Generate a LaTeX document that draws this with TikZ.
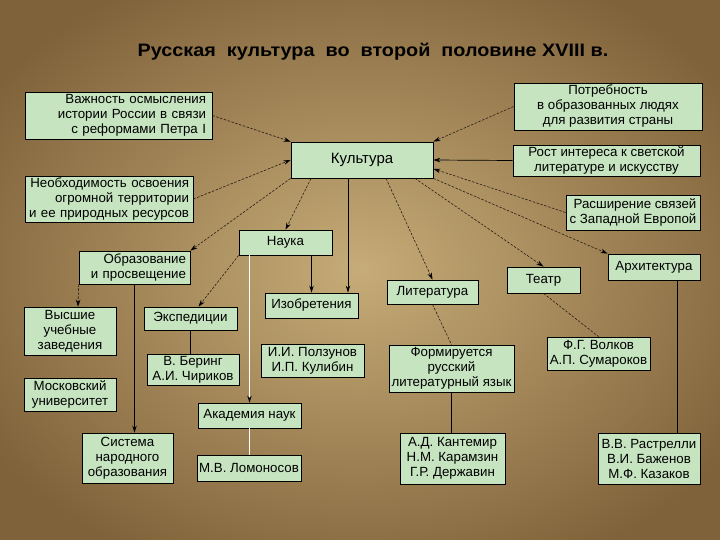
\documentclass[tikz,border=0pt]{standalone}
\usepackage{fontspec}
\setmainfont{Liberation Sans}
\newfontfamily\titlefont{Liberation Sans}[FakeStretch=1.1]
\usepackage{tikz}
\usetikzlibrary{arrows.meta}
\definecolor{parchmid}{RGB}{198,172,120}
\definecolor{parchedge}{RGB}{128,98,58}
\definecolor{boxgreen}{RGB}{198,228,192}
\definecolor{linkcol}{RGB}{40,30,20}
\tikzstyle{box}=[draw=black, line width=0.8pt, fill=boxgreen, inner sep=1pt,
                 font=\fontsize{13.3}{15}\selectfont]
\tikzstyle{link}=[draw=linkcol, line width=0.6pt, dash pattern=on 2.5pt off 1.5pt]
\tikzstyle{solid link}=[draw=black, line width=0.7pt]
\tikzstyle{pale link}=[draw=white, line width=0.8pt]
\tikzstyle{tip}=[-{Stealth[length=7pt, width=4.5pt, black]}]

\begin{document}
\begin{tikzpicture}[x=1pt, y=-1pt]
    % background
    \useasboundingbox (0,0) rectangle (720,540);
    \shade[inner color=parchmid, outer color=parchedge] (-80,-60) rectangle (800,600);
    \node[font=\titlefont\fontsize{18}{20}\selectfont\bfseries] (title) at (373,52) {Русская\ \ культура\ \ во\ \ второй\ \ половине XVIII в.};

    % top row
    \node[box, align=right, text width=175pt, minimum width=187pt, minimum height=47pt] (vazh) at (118.5,115.5)
        {Важность осмысления\\истории России в связи\\с реформами Петра I};
    \node[box, align=center, minimum width=188pt, minimum height=47pt] (potr) at (608,106.5)
        {Потребность\\в образованных людях\\для развития страны};
    \node[box, minimum width=142pt, minimum height=36pt, font=\fontsize{15}{17}\selectfont] (kult) at (362,160) {Культура};
    \node[box, align=center, minimum width=187pt, minimum height=31pt] (rost) at (606.5,160.5)
        {Рост интереса к светской\\литературе и искусству};
    \node[box, align=right, text width=160pt, minimum width=168pt, minimum height=46pt] (neobh) at (109,199)
        {Необходимость освоения\\огромной территории\\и ее природных ресурсов};
    \node[box, align=right, minimum width=134pt, minimum height=35pt] (rassh) at (633,212.5)
        {Расширение связей\\с Западной Европой};

    % branches
    \node[box, minimum width=93pt, minimum height=25pt] (nauka) at (285.5,242.5) {Наука};
    \node[box, align=right, text width=103pt, minimum width=111pt, minimum height=33pt] (obraz) at (134.5,267.5)
        {Образование\\и просвещение};
    \node[box, minimum width=92pt, minimum height=26pt] (arkh) at (654,267) {Архитектура};
    \node[box, minimum width=73pt, minimum height=26pt] (teatr) at (543.5,280) {Театр};
    \node[box, minimum width=91pt, minimum height=24pt] (lit) at (432.5,292) {Литература};

    % lower rows
    \node[box, align=center, minimum width=92pt, minimum height=48pt] (vyssh) at (70,331)
        {Высшие\\учебные\\заведения};
    \node[box, minimum width=93pt, minimum height=23pt] (exped) at (190.5,318.5) {Экспедиции};
    \node[box, minimum width=93pt, minimum height=25pt] (izobr) at (311.5,305.5) {Изобретения};
    \node[box, align=center, minimum width=92pt, minimum height=31pt] (bering) at (193,369.5)
        {В. Беринг\\А.И. Чириков};
    \node[box, align=center, minimum width=103pt, minimum height=33pt] (polz) at (312.5,360.5)
        {И.И. Ползунов\\И.П. Кулибин};
    \node[box, align=center, minimum width=125pt, minimum height=47pt] (form) at (451.5,368.5)
        {Формируется\\русский\\литературный язык};
    \node[box, align=center, minimum width=103pt, minimum height=33pt] (volk) at (598.5,353.5)
        {Ф.Г. Волков\\А.П. Сумароков};
    \node[box, align=center, minimum width=92pt, minimum height=33pt] (mosk) at (70,394.5)
        {Московский\\университет};
    \node[box, minimum width=103pt, minimum height=25pt] (akad) at (249.5,415.5) {Академия наук};
    \node[box, align=center, minimum width=91pt, minimum height=50pt] (sist) at (127.5,458)
        {Система\\народного\\образования};
    \node[box, minimum width=104pt, minimum height=26pt] (lomon) at (249,468) {М.В. Ломоносов};
    \node[box, align=center, minimum width=105pt, minimum height=51pt] (kant) at (452.5,458.5)
        {А.Д. Кантемир\\Н.М. Карамзин\\Г.Р. Державин};
    \node[box, align=center, minimum width=102pt, minimum height=51pt] (rastr) at (649,458.5)
        {В.В. Растрелли\\В.И. Баженов\\М.Ф. Казаков};

    % into Culture
    \draw[link, tip] (vazh.east) -- (kult.north west);
    \draw[link, tip] (neobh.east) -- (kult.west);
    \draw[link, tip] (potr.west) -- (kult.north east);
    \draw[solid link, tip] (rost.west) -- (kult.east);
    \draw[link, tip] (rassh.west) -- (kult.-7);

    % out of Culture
    \draw[link, tip] ([xshift=-51pt]kult.south) -- (nauka.north);
    \draw[link, tip] (kult.south west) -- (obraz.north east);
    \draw[solid link, tip] ([xshift=-14pt]kult.south) -- ([xshift=-14pt]kult.south |- izobr.north);
    \draw[link, tip] ([xshift=24pt]kult.south) -- (lit.north);
    \draw[link, tip] ([xshift=53pt]kult.south) -- (teatr.north);
    \draw[link, tip] (kult.south east) -- (arkh.north west);

    % science and education
    \draw[solid link, tip] (nauka.south -| izobr.north) -- (izobr.north);
    \draw[link, tip] (nauka.south west) -- ([xshift=8pt]exped.north);
    \draw[pale link, tip] (nauka.south -| akad.north) -- (akad.north);
    \draw[pale link] (akad.south) -- (akad.south |- lomon.north);
    \draw[solid link] (exped.south) -- (exped.south |- bering.north);
    \draw[link, tip] (obraz.south west) -- ([xshift=8pt]vyssh.north);
    \draw[solid link, tip] (obraz.south) -- (obraz.south |- sist.north);

    % arts
    \draw[link] (lit.south) -- (form.north);
    \draw[solid link] (form.south) -- (form.south |- kant.north);
    \draw[link] (teatr.south) -- (volk.north);
    \draw[solid link] ([xshift=23pt]arkh.south) -- ([xshift=23pt]arkh.south |- rastr.north);
\end{tikzpicture}
\end{document}
